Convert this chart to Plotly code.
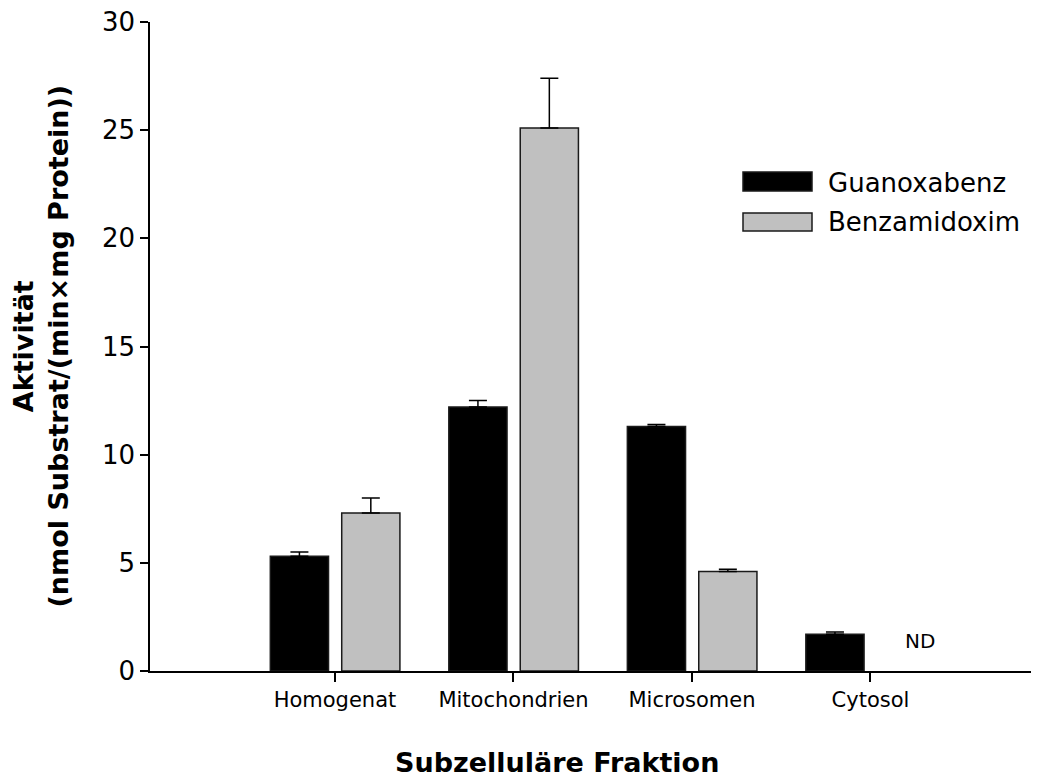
import plotly.graph_objects as go

categories = ["Homogenat", "Mitochondrien", "Microsomen", "Cytosol"]
guanoxabenz = [5.3, 12.2, 11.3, 1.7]
guanoxabenz_err = [0.2, 0.3, 0.1, 0.1]
benzamidoxim = [7.3, 25.1, 4.6, None]
benzamidoxim_err = [0.7, 2.3, 0.1, None]
series_names = ["Guanoxabenz", "Benzamidoxim"]
y_ticks = [0, 5, 10, 15, 20, 25, 30]

FONT = "DejaVu Sans"
OFF = 8  # browser body margin
W, H = 1039 - OFF, 777 - OFF
L, R, T, B = 150 - OFF, 0, 22 - OFF, 114 - OFF
pw, ph = W - L - R, H - T - B

# helpers: convert window pixels to paper coords
def px(x):
    return (x - 150) / pw

def py(y):
    return (663 - y) / ph

bar_w = 0.326
fig = go.Figure()
fig.add_trace(go.Bar(
    x=categories, y=guanoxabenz, name=series_names[0],
    width=bar_w, offset=-0.362,
    marker=dict(color="black", line=dict(color="#1a1a1a", width=1.5)),
    error_y=dict(type="data", array=guanoxabenz_err, arrayminus=[0]*4, symmetric=False,
                 color="black", thickness=1.5, width=9),
    showlegend=False,
))
fig.add_trace(go.Bar(
    x=categories, y=benzamidoxim, name=series_names[1],
    width=bar_w, offset=0.038,
    marker=dict(color="#c0c0c0", line=dict(color="#1a1a1a", width=1.5)),
    error_y=dict(type="data", array=benzamidoxim_err, arrayminus=[0]*4, symmetric=False,
                 color="black", thickness=1.5, width=9),
    showlegend=False,
))

fig.update_layout(
    width=W, height=H,
    margin=dict(l=L, r=R, t=T, b=B, autoexpand=False),
    paper_bgcolor="white", plot_bgcolor="white",
    barmode="overlay",
    font=dict(family=FONT, color="black"),
    xaxis=dict(
        type="category", range=[-1.036, 3.944],
        showline=True, linecolor="black", linewidth=1.5,
        ticks="outside", ticklen=9, tickwidth=1.5, tickcolor="black",
        tickfont=dict(size=21, family=FONT), showgrid=False, zeroline=False,
    ),
    yaxis=dict(
        range=[0, 30], tickvals=y_ticks, ticktext=[str(v) for v in y_ticks],
        ticklabeloverflow="allow",
        showline=True, linecolor="black", linewidth=1.5,
        ticks="outside", ticklen=8, tickwidth=1.5, tickcolor="black",
        tickfont=dict(size=26, family=FONT), showgrid=False, zeroline=False,
    ),
)

# axis titles
fig.add_annotation(
    text="<b>Aktivität</b><br><b>(nmol Substrat/(min×mg Protein))</b>",
    xref="paper", yref="paper", x=px(40), y=0.5, textangle=-90,
    showarrow=False, font=dict(size=27, family=FONT), xanchor="center", yanchor="middle",
)
fig.add_annotation(
    text="<b>Subzelluläre Fraktion</b>",
    xref="paper", yref="paper", x=px(557), y=py(754),
    showarrow=False, font=dict(size=27, family=FONT), xanchor="center", yanchor="middle",
)

# ND label for missing value
fig.add_annotation(
    text="ND", x=categories.index("Cytosol") + 0.275, y=1.4, xref="x", yref="y",
    showarrow=False, font=dict(size=20, family=FONT),
)

# custom legend
legend_rows = [
    (series_names[0], "black", 164, 183, 175),
    (series_names[1], "#c0c0c0", 205, 223, 214),
]
for name, col, y0, y1, yc in legend_rows:
    fig.add_shape(type="rect", xref="paper", yref="paper",
                  x0=px(743), x1=px(812), y0=py(y1), y1=py(y0),
                  fillcolor=col, line=dict(color="#1a1a1a", width=1.5))
    fig.add_annotation(text=name, xref="paper", yref="paper", x=px(826), y=py(yc),
                       xanchor="left", yanchor="middle", showarrow=False,
                       font=dict(size=26, family=FONT))

fig.write_html("out.html")
